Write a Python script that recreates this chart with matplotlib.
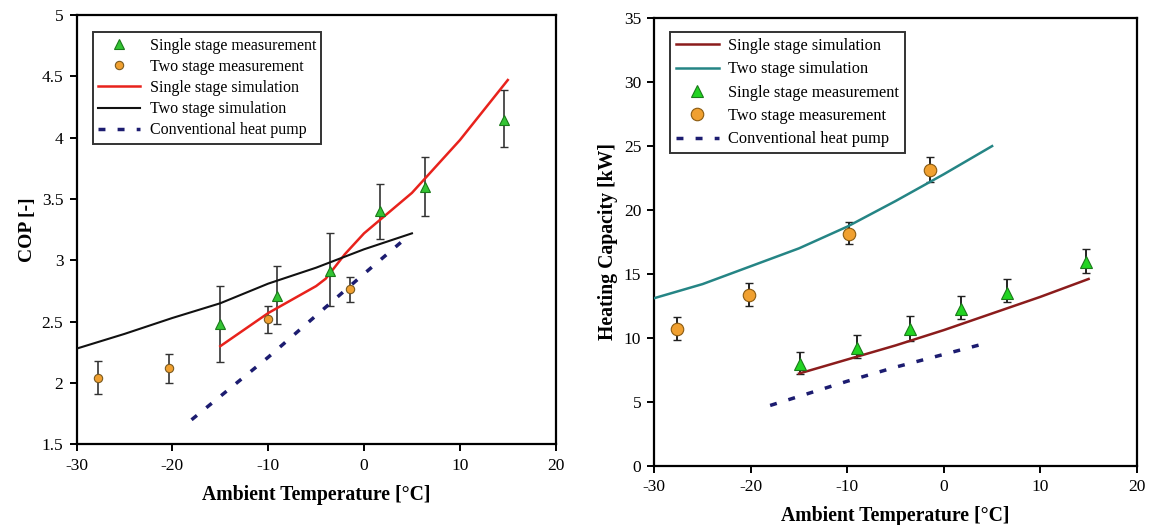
import numpy as np
import matplotlib.pyplot as plt

plt.rcParams['font.family'] = ['Liberation Serif', 'DejaVu Serif']
plt.rcParams['axes.unicode_minus'] = False

# ---- COP chart data ----
cop_single_meas_x = [-15.0, -9.1, -3.6, 1.7, 6.4, 14.6]
cop_single_meas_y = [2.48, 2.71, 2.91, 3.40, 3.60, 4.14]
cop_single_meas_lo = [2.17, 2.48, 2.63, 3.17, 3.36, 3.92]
cop_single_meas_hi = [2.79, 2.95, 3.22, 3.62, 3.84, 4.39]

cop_two_meas_x = [-27.8, -20.3, -10.0, -1.5]
cop_two_meas_y = [2.04, 2.12, 2.52, 2.77]
cop_two_meas_lo = [1.91, 2.00, 2.41, 2.66]
cop_two_meas_hi = [2.18, 2.24, 2.63, 2.86]

cop_single_sim_x = [-15, -10, -5, -4, -2, 0, 5, 10, 15]
cop_single_sim_y = [2.30, 2.57, 2.79, 2.85, 3.05, 3.22, 3.55, 3.98, 4.47]

cop_two_sim_x = [-30, -25, -20, -15, -10, -5, 0, 5]
cop_two_sim_y = [2.28, 2.40, 2.53, 2.65, 2.81, 2.94, 3.09, 3.22]

cop_conv_x = [-18, -10, -5, 0, 4.5]
cop_conv_y = [1.70, 2.21, 2.55, 2.89, 3.19]

# ---- Heating capacity chart data ----
hc_single_sim_x = [-15, -10, -5, 0, 5, 10, 15]
hc_single_sim_y = [7.2, 8.3, 9.4, 10.6, 11.9, 13.2, 14.6]

hc_two_sim_x = [-30, -25, -20, -15, -10, -5, 0, 5]
hc_two_sim_y = [13.1, 14.2, 15.6, 17.0, 18.7, 20.7, 22.8, 25.0]

hc_single_meas_x = [-14.9, -8.95, -3.55, 1.8, 6.5, 14.7]
hc_single_meas_y = [7.97, 9.23, 10.67, 12.24, 13.5, 15.92]
hc_single_meas_lo = [7.13, 8.44, 9.75, 11.5, 12.77, 15.05]
hc_single_meas_hi = [8.91, 10.2, 11.7, 13.3, 14.6, 16.94]

hc_two_meas_x = [-27.7, -20.2, -9.8, -1.4]
hc_two_meas_y = [10.72, 13.37, 18.14, 23.15]
hc_two_meas_lo = [9.8, 12.48, 17.3, 22.2]
hc_two_meas_hi = [11.64, 14.26, 19.09, 24.17]

hc_conv_x = [-18, -10, -5, 0, 4.5]
hc_conv_y = [4.7, 6.6, 7.7, 8.7, 9.6]

green = '#33c433'
orange = '#f0a030'
navy = '#1c1c70'


def yerr(y, lo, hi):
    y = np.array(y)
    return [y - np.array(lo), np.array(hi) - y]


def style_axes(ax):
    for s in ax.spines.values():
        s.set_linewidth(1.6)
    ax.tick_params(direction='out', length=5, width=1.4, labelsize=12.5, pad=4.5)
    ax.set_xlabel('Ambient Temperature [°C]', fontsize=14.2, fontweight='bold',
                  labelpad=8)


fig = plt.figure(figsize=(11.51, 5.25), dpi=100)

# ---- left: COP ----
ax1 = fig.add_axes([0.0665, 0.1537, 0.4163, 0.8177])
ax1.errorbar(cop_single_meas_x, cop_single_meas_y,
             yerr=yerr(cop_single_meas_y, cop_single_meas_lo, cop_single_meas_hi),
             fmt='none', ecolor='#333333', elinewidth=1.2, capsize=3, zorder=2)
ax1.errorbar(cop_two_meas_x, cop_two_meas_y,
             yerr=yerr(cop_two_meas_y, cop_two_meas_lo, cop_two_meas_hi),
             fmt='none', ecolor='#333333', elinewidth=1.2, capsize=3, zorder=2)
ax1.plot(cop_single_meas_x, cop_single_meas_y, '^', color=green, mec='#1a7a1a',
         ms=6.5, mew=0.8, ls='none', label='Single stage measurement', zorder=4)
ax1.plot(cop_two_meas_x, cop_two_meas_y, 'o', color=orange, mec='#7a5a20',
         ms=6, mew=0.8, ls='none', label='Two stage measurement', zorder=4)
ax1.plot(cop_single_sim_x, cop_single_sim_y, color='#e8221c', lw=1.8,
         label='Single stage simulation', zorder=3)
ax1.plot(cop_two_sim_x, cop_two_sim_y, color='#111111', lw=1.5,
         label='Two stage simulation', zorder=3)
ax1.plot(cop_conv_x, cop_conv_y, color=navy, lw=2.5, ls=(0, (2, 3.5)),
         label='Conventional heat pump', zorder=3)
ax1.set_xlim(-30, 20)
ax1.set_ylim(1.5, 5)
ax1.set_xticks(range(-30, 21, 10))
ax1.set_yticks([1.5, 2, 2.5, 3, 3.5, 4, 4.5, 5])
ax1.set_yticklabels(['1.5', '2', '2.5', '3', '3.5', '4', '4.5', '5'])
ax1.set_ylabel('COP [-]', fontsize=14, fontweight='bold')
style_axes(ax1)
leg1 = ax1.legend(loc='upper left', bbox_to_anchor=(0.034, 0.96), fontsize=11.5,
                  frameon=True, fancybox=False, edgecolor='black',
                  handlelength=2.6, borderpad=0.35, labelspacing=0.32,
                  handletextpad=0.6, borderaxespad=0)
leg1.get_frame().set_linewidth(1.4)

# ---- right: Heating capacity ----
ax2 = fig.add_axes([0.5685, 0.1133, 0.4192, 0.8518])
ax2.errorbar(hc_single_meas_x, hc_single_meas_y,
             yerr=yerr(hc_single_meas_y, hc_single_meas_lo, hc_single_meas_hi),
             fmt='none', ecolor='#222222', elinewidth=1.4, capsize=3, zorder=2)
ax2.errorbar(hc_two_meas_x, hc_two_meas_y,
             yerr=yerr(hc_two_meas_y, hc_two_meas_lo, hc_two_meas_hi),
             fmt='none', ecolor='#222222', elinewidth=1.4, capsize=3, zorder=2)
ax2.plot(hc_single_sim_x, hc_single_sim_y, color='#8b1c1c', lw=1.8,
         label='Single stage simulation', zorder=3)
ax2.plot(hc_two_sim_x, hc_two_sim_y, color='#258585', lw=1.8,
         label='Two stage simulation', zorder=3)
ax2.plot(hc_single_meas_x, hc_single_meas_y, '^', color='#22d422', mec='#1a7a1a',
         ms=9, mew=0.8, ls='none', label='Single stage measurement', zorder=4)
ax2.plot(hc_two_meas_x, hc_two_meas_y, 'o', color=orange, mec='#8a5a10',
         ms=9, mew=0.8, ls='none', label='Two stage measurement', zorder=4)
ax2.plot(hc_conv_x, hc_conv_y, color=navy, lw=2.5, ls=(0, (2, 3.5)),
         label='Conventional heat pump', zorder=3)
ax2.set_xlim(-30, 20)
ax2.set_ylim(0, 35)
ax2.set_xticks(range(-30, 21, 10))
ax2.set_yticks(range(0, 36, 5))
ax2.set_ylabel('Heating Capacity [kW]', fontsize=14.2, fontweight='bold')
style_axes(ax2)
leg2 = ax2.legend(loc='upper left', bbox_to_anchor=(0.033, 0.969), fontsize=11.8,
                  frameon=True, fancybox=False, edgecolor='black',
                  handlelength=2.6, borderpad=0.35, labelspacing=0.45,
                  handletextpad=0.6, borderaxespad=0)
leg2.get_frame().set_linewidth(1.4)

plt.savefig('out.png', dpi=100)
